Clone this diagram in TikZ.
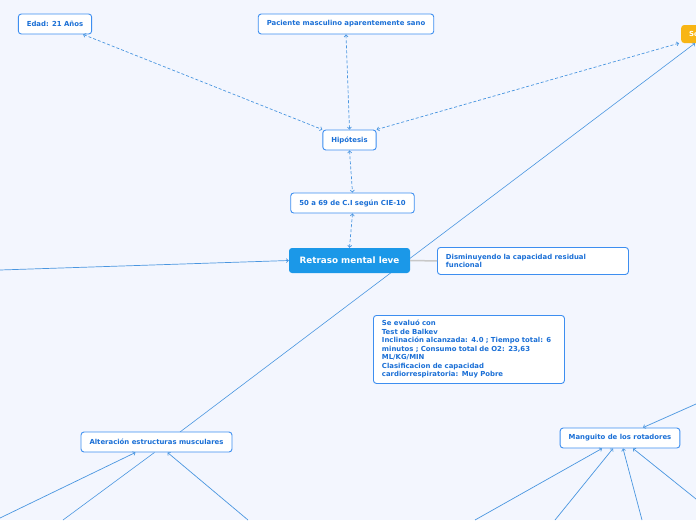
\documentclass[tikz,border=0pt]{standalone}
\usepackage{fontspec}
\setmainfont{DejaVu Sans}
\definecolor{MAPbg}{HTML}{F3F6FE}
\definecolor{MAPblue}{HTML}{1B98E8}
\definecolor{MAPedge}{HTML}{3D8EF0}
\definecolor{MAPtext}{HTML}{1A6FD6}
\definecolor{MAPline}{HTML}{4A96E0}
\definecolor{MAPgray}{HTML}{C8C8C8}
\definecolor{MAPorange}{HTML}{F8B514}
\usetikzlibrary{arrows.meta, positioning}

\begin{document}
\begin{tikzpicture}[x=1pt, y=-1pt,
      box/.style={draw=MAPedge, fill=white, line width=0.9pt, rounded corners=3pt,
         text=MAPtext, font=\fontsize{6.9}{8.5}\selectfont\bfseries,
         inner xsep=8.5pt, inner ysep=0pt, minimum height=20pt},
      note/.style={box, align=left, text width=174pt, inner xsep=8.5pt, inner ysep=5pt},
      main/.style={fill=MAPblue, rounded corners=3pt, text=white,
         font=\fontsize{8.8}{10}\selectfont\bfseries, minimum width=121pt, minimum height=25pt},
      dlink/.style={dash pattern=on 3pt off 2pt, MAPline, line width=0.7pt,
         {Straight Barb[length=2pt,width=4pt]}-{Straight Barb[length=2pt,width=4pt]}},
      link/.style={MAPline, line width=0.7pt, -{Straight Barb[length=2pt,width=4pt]}}]
   % background and page size
   \fill[MAPbg] (0,0) rectangle (696,520);
   \useasboundingbox (0,0) rectangle (696,520);
   % long line behind the central topic
   \coordinate (alttop) at (180,432);
   \node[fill=MAPorange, rounded corners=3pt, text=white, anchor=west,
      font=\fontsize{6.9}{8.5}\selectfont\bfseries, minimum height=18pt,
      minimum width=60pt, align=left, text width=44pt] (sol) at (681,34) {So};
   \draw[MAPline, line width=0.6pt, -{Straight Barb[length=2pt,width=4pt]}]
      (alttop) -- ([xshift=14pt]sol.south west);
   % central topic
   \node[main] (retraso) at (349.5,260.5) {Retraso mental leve};
   \node[box] (cie) at (352.5,203) {50 a 69 de C.I según CIE-10};
   \node[box] (hipo) at (349.5,140) {Hipótesis};
   \node[box] (edad) at (55,24) {Edad: 21 Años};
   \node[box] (paciente) at (346,24) {Paciente masculino aparentemente sano};
   \node[note, anchor=north west, minimum height=27pt] (dism) at (437,247)
      {Disminuyendo la capacidad residual\\funcional};
   \node[note, anchor=north west] (test) at (373,315)
      {Se evaluó con\\Test de Balkev\\Inclinación alcanzada: 4.0 ; Tiempo total: 6\\minutos ; Consumo total de O2: 23,63\\ML/KG/MIN\\Clasificacion de capacidad\\cardiorrespiratoria: Muy Pobre};
   \node[box] (alter) at (156.5,442) {Alteración estructuras musculares};
   \node[box] (mang) at (620,438) {Manguito de los rotadores};
   % dashed links
   \draw[dlink] ([xshift=-9pt]edad.south east) -- (hipo.north west);
   \draw[dlink] (paciente.south) -- (hipo.north);
   \draw[dlink] ([xshift=-2pt]sol.south west) -- (hipo.north east);
   \draw[dlink] (hipo.south) -- (cie.north);
   \draw[dlink] (cie.south) -- (retraso.north);
   % solid links
   \coordinate (leftin) at (0,270);
   \draw[link] (leftin) -- (retraso.west);
   \draw[MAPgray, line width=1.5pt] (retraso.east) -- (dism.west);
   % links into the lower topics
   \coordinate (a1) at (0,518);
   \coordinate (a2) at (63,520);
   \coordinate (a3) at (248,520);
   \draw[link] (a1) -- ([xshift=-21pt]alter.south);
   \draw[MAPline, line width=0.6pt] (a2) -- ([xshift=-2pt]alter.south);
   \draw[link] (a3) -- ([xshift=11pt]alter.south);
   \coordinate (m0) at (696,404);
   \coordinate (m1) at (475,520);
   \coordinate (m2) at (555,520);
   \coordinate (m3) at (642,520);
   \coordinate (m4) at (696,499);
   \draw[link] (m0) -- ([xshift=23pt]mang.north);
   \draw[link] (m1) -- ([xshift=-18pt]mang.south);
   \draw[link] (m2) -- ([xshift=-7pt]mang.south);
   \draw[link] (m3) -- ([xshift=3pt]mang.south);
   \draw[link] (m4) -- ([xshift=13pt]mang.south);
\end{tikzpicture}
\end{document}
